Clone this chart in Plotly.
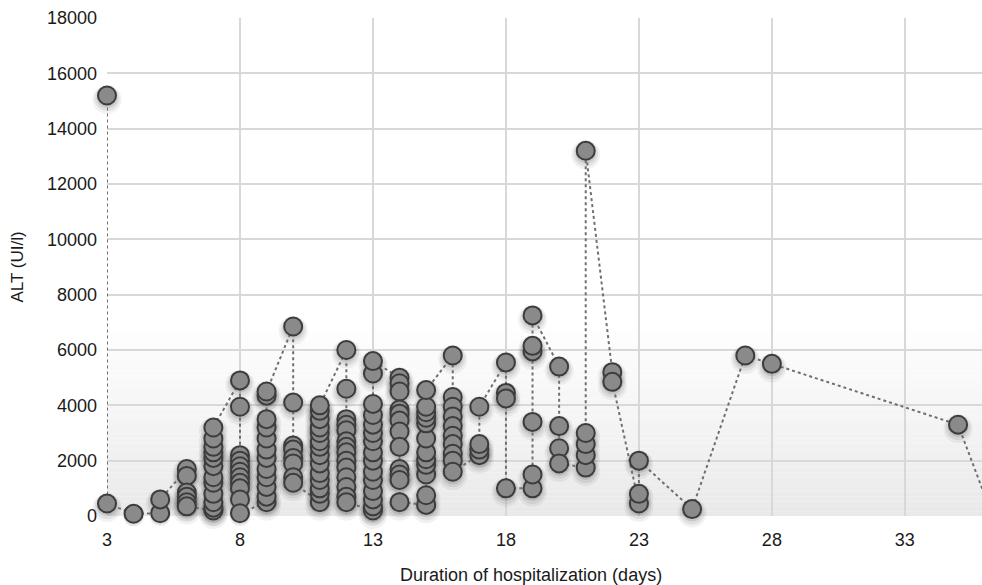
import plotly.graph_objects as go

# ---- data ----
day_list = [3, 4, 5, 6, 7, 8, 9, 10, 11, 12, 13, 14, 15, 16, 17, 18, 19, 20, 21, 22, 23, 25, 27, 28, 35, 36]
alt_by_day = [
    [15200, 450],
    [80],
    [100, 600],
    [1700, 1450, 850, 700, 500, 350],
    [200, 300, 500, 800, 1200, 1400, 1800, 2100, 2300, 2500, 2800, 3200],
    [4900, 3950, 2200, 2000, 1800, 1600, 1400, 1200, 1000, 600, 100],
    [500, 700, 1050, 1400, 1700, 2100, 2400, 2800, 3200, 3500, 4350, 4500],
    [6850, 4100, 2550, 2400, 2100, 1900, 1400, 1200],
    [500, 800, 1000, 1300, 1550, 1900, 2200, 2500, 2700, 3000, 3200, 3500, 3800, 4000],
    [6000, 4600, 3500, 3300, 3100, 2700, 2500, 2300, 2000, 1750, 1400, 1050, 700, 500],
    [200, 350, 600, 900, 1300, 1600, 2000, 2300, 2700, 3000, 3300, 3650, 4050, 5150, 5600],
    [5000, 4800, 4500, 3850, 3700, 3450, 3050, 2500, 1700, 1500, 1300, 500],
    [400, 750, 1500, 1850, 2050, 2300, 2800, 3350, 3550, 3750, 3950, 4550],
    [5800, 4300, 3950, 3600, 3250, 2900, 2600, 2250, 2000, 1600],
    [2200, 2400, 2600, 3950],
    [5550, 4450, 4250, 1000],
    [1000, 1500, 3400, 5950, 6150, 7250],
    [5400, 3250, 2450, 1900],
    [1750, 2200, 2600, 3000, 13200],
    [5200, 4850],
    [450, 800, 2000],
    [250],
    [5800],
    [5500],
    [3300],
    [750],
]
x_ticks = [3, 8, 13, 18, 23, 28, 33]
y_ticks = list(range(0, 18001, 2000))
x_title = "Duration of hospitalization (days)"
y_title = "ALT (UI/l)"

days = []
alt = []
for d, vals in zip(day_list, alt_by_day):
    for v in vals:
        days.append(d)
        alt.append(v)

FONT = "Liberation Sans, Arial, Helvetica, sans-serif"
Y_MAX = 18000
PLOT_H = 585 - 18 - 69
px_to_y = Y_MAX / PLOT_H

fig = go.Figure()

# soft shadow under markers
for size, alpha, dy in [(29, 0.05, 4), (25, 0.07, 3), (21, 0.10, 2)]:
    fig.add_trace(go.Scatter(
        x=days, y=[v - dy * px_to_y for v in alt], mode="markers",
        marker=dict(size=size, color=f"rgba(0,0,0,{alpha})", line=dict(width=0)),
        hoverinfo="skip", showlegend=False, cliponaxis=False,
    ))
# main series
fig.add_trace(go.Scatter(
    x=days, y=alt, mode="lines+markers",
    line=dict(color="#6f6f6f", width=2, dash="dot"),
    marker=dict(size=18, color="#8a8a8a", line=dict(color="#3c3c3c", width=2)),
    showlegend=False, cliponaxis=False,
))

# gradient background near the bottom
shapes = []
N = 40
top = 7000
for i in range(N):
    g = int(233 + (255 - 233) * (i / (N - 1)) ** 0.9)
    shapes.append(dict(
        type="rect", xref="paper", yref="y", x0=0, x1=1,
        y0=top * i / N, y1=top * (i + 1) / N,
        fillcolor=f"rgb({g},{g},{g})", line=dict(width=0), layer="below",
    ))

fig.update_layout(
    width=982, height=585,
    margin=dict(l=107, r=0, t=18, b=69),
    paper_bgcolor="white", plot_bgcolor="white",
    font=dict(family=FONT, size=18, color="#1a1a1a"),
    shapes=shapes,
    annotations=[dict(
        text=x_title, xref="paper", yref="paper",
        x=(531 - 107) / 875, y=0, yshift=-47, yanchor="top", xanchor="center",
        showarrow=False, font=dict(size=18),
    )],
    xaxis=dict(
        range=[3, 35.9], tickvals=x_ticks, ticktext=[str(t) for t in x_ticks],
        showgrid=True, gridcolor="#d8d8d8", gridwidth=1.5,
        zeroline=False, showline=False, ticks="",
        ticklabelstandoff=11,
        tickfont=dict(size=18),
    ),
    yaxis=dict(
        range=[0, Y_MAX], tickvals=y_ticks, tickformat="d",
        showgrid=True, gridcolor="#d8d8d8", gridwidth=1.5,
        zeroline=False, showline=False, ticks="",
        ticklabelstandoff=9,
        title=dict(text=y_title, standoff=18, font=dict(size=17)),
        tickfont=dict(size=18),
    ),
)

fig.write_html("out.html")
